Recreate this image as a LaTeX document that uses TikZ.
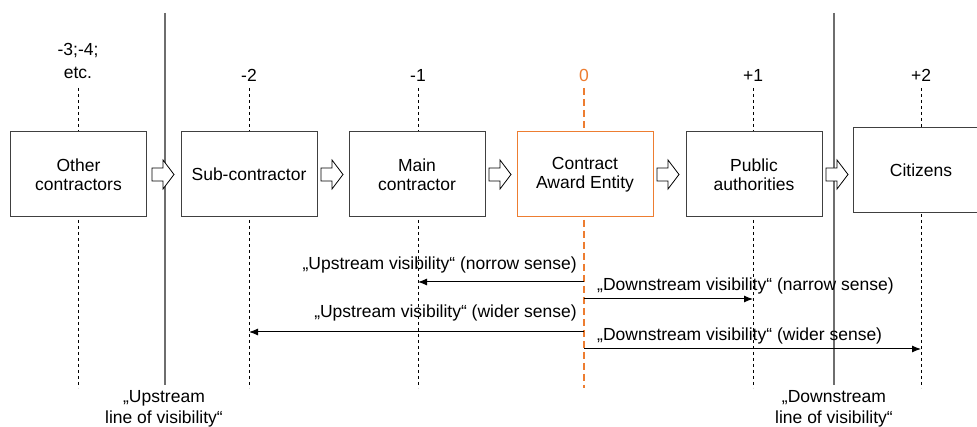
\documentclass[tikz,border=0pt]{standalone}
\usepackage{fontspec}
\setmainfont{Liberation Sans}
\usetikzlibrary{arrows.meta}
\definecolor{orng}{RGB}{237,125,49}
\definecolor{bordc}{RGB}{64,64,64}
\definecolor{vlinec}{RGB}{110,110,110}
\tikzset{
  box/.style={draw=bordc, line width=1pt, fill=white, minimum width=136pt, minimum height=85pt, align=center, inner sep=2pt, font=\fontsize{17.5}{19.5}\selectfont},
  lvl/.style={font=\fontsize{17.5}{20}\selectfont, align=center, inner sep=0pt},
  txt/.style={font=\fontsize{17.5}{20}\selectfont, inner sep=0pt},
  dashline/.style={draw=black, line width=0.8pt, dash pattern=on 3pt off 3pt},
  odash/.style={draw=orng, line width=2pt, dash pattern=on 7pt off 4pt},
  visline/.style={draw=vlinec, line width=1.6pt},
  varrow/.style={draw=black, line width=1pt, -{Latex[length=9pt,width=7pt]}},
  blockarrow/.style={draw=black, line width=0.8pt, fill=white}
}
\newcommand{\blockarr}[1]{%
  \draw[blockarrow] (#1) ++(0,-6.5) -- ++(11,0) -- ++(0,-8) -- ++(11,14.5) -- ++(-11,14.5) -- ++(0,-8) -- ++(-11,0) -- cycle;}
\begin{document}
\begin{tikzpicture}[x=1pt,y=-1pt]
\clip (0,0) rectangle (977,427);
\fill[white] (0,0) rectangle (977,427);

% level labels
\node[lvl] (lo) at (78,61) {-3;-4;\\[3pt]etc.};
\node[lvl] (ls) at (249,75) {-2};
\node[lvl] (lm) at (418,75) {-1};
\node[lvl, text=orng] (lc) at (584,75) {0};
\node[lvl] (lp) at (753,75) {+1};
\node[lvl] (lz) at (921,75) {+2};

% coordinates for dashed lines
\foreach \n/\x in {o/78,s/249,m/418,c/584,p/753,z/921}{
  \coordinate (t\n) at (\x,88);
  \coordinate (b\n) at (\x,388);
}

% dashed lines
\foreach \n in {o,s,m,p,z}{ \draw[dashline] (t\n) -- (b\n); }
\draw[odash] (tc) -- (bc);

% visibility lines
\coordinate (uvt) at (165,13);
\coordinate (uvb) at (165,385);
\coordinate (dvt) at (834,13);
\coordinate (dvb) at (834,385);
\draw[visline] (uvt) -- (uvb);
\draw[visline] (dvt) -- (dvb);

% boxes
\node[box] (o) at (78.5,174.5) {Other\\contractors};
\node[box] (s) at (249,174.5) {Sub-contractor};
\node[box] (m) at (417,174.5) {Main\\contractor};
\node[box, draw=orng] (c) at (585,174.5) {Contract\\Award Entity};
\node[box] (p) at (754,174.5) {Public\\authorities};
\node[box] (z) at (921,170) {Citizens};

% block arrows
\coordinate (a1) at (152,174.5);
\coordinate (a2) at (321,174.5);
\coordinate (a3) at (489,174.5);
\coordinate (a4) at (657,174.5);
\coordinate (a5) at (826,174.5);
\foreach \a in {a1,a2,a3,a4,a5}{ \blockarr{\a} }

% visibility arrows
\coordinate (un0) at (584,282);
\coordinate (un1) at (418,282);
\coordinate (dn0) at (584,299);
\coordinate (dn1) at (753,299);
\coordinate (uw0) at (584,332);
\coordinate (uw1) at (249,332);
\coordinate (dw0) at (584,349);
\coordinate (dw1) at (921,349);
\draw[varrow] (un0) -- (un1);
\draw[varrow] (dn0) -- (dn1);
\draw[varrow] (uw0) -- (uw1);
\draw[varrow] (dw0) -- (dw1);

\node[txt, anchor=east] (tun) at (577,265) {„Upstream visibility“ (norrow sense)};
\node[txt, anchor=west] (tdn) at (597,286) {„Downstream visibility“ (narrow sense)};
\node[txt, anchor=east] (tuw) at (577,313) {„Upstream visibility“ (wider sense)};
\node[txt, anchor=west] (tdw) at (597,336) {„Downstream visibility“ (wider sense)};

% bottom labels
\node[lvl] (ul) at (164,409) {„Upstream\\[1pt]line of visibility“};
\node[lvl] (dl) at (834,409) {„Downstream\\[1pt]line of visibility“};
\end{tikzpicture}
\end{document}
